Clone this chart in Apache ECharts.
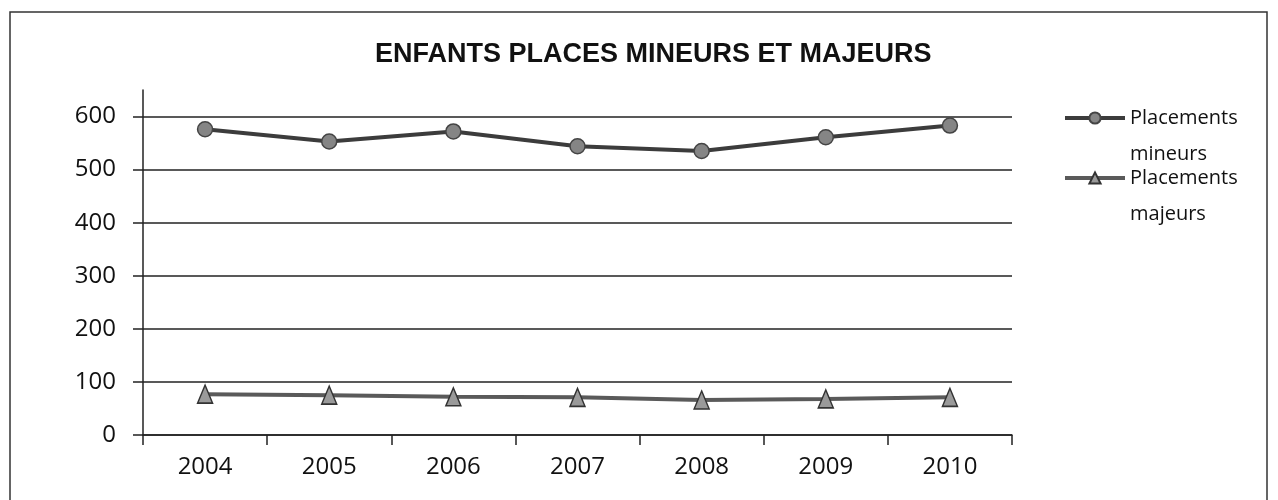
<!DOCTYPE html>
<html lang="fr">
<head>
    <meta charset="UTF-8">
    <title>Enfants placés mineurs et majeurs</title>
    <script src="https://cdn.jsdelivr.net/npm/echarts@6/dist/echarts.min.js"></script>
    <style>
        html, body { margin: 0; padding: 0; background: #fff; }
    </style>
</head>
<body>
<div id="main" style="width: 1278px;height:500px;"></div>
<script>

    var years = ['2004', '2005', '2006', '2007', '2008', '2009', '2010'];
    var mineurs = [576, 553, 572, 544, 535, 561, 583];
    var majeurs = [77, 75, 72, 71, 66, 68, 71];
    var yTicks = [0, 100, 200, 300, 400, 500, 600];

    var myChart = echarts.init(document.getElementById('main'));

    var labelFont = '"Open Sans", sans-serif';

    var legendText = function (name) {
        // ligne vide devant pour que l'icone soit en face de la 1re ligne
        return ' \n' + name.replace(' ', '\n');
    };

    var option = {
        backgroundColor: '#fff',
        animation: false,
        title: {
            text: 'ENFANTS PLACES MINEURS ET MAJEURS',
            left: 370,
            top: 36,
            textStyle: {
                fontFamily: '"Liberation Sans", Arial, sans-serif',
                fontWeight: 'bold',
                fontSize: 27,
                color: '#111'
            }
        },
        legend: [
            {
                data: ['Placements mineurs'],
                left: 1063,
                top: 64,
                padding: 0,
                itemWidth: 60,
                itemHeight: 14,
                lineStyle: {width: 4},
                formatter: legendText,
                textStyle: {fontFamily: labelFont, fontSize: 20, lineHeight: 36, color: '#111'}
            },
            {
                data: ['Placements majeurs'],
                left: 1063,
                top: 124,
                padding: 0,
                itemWidth: 60,
                itemHeight: 14,
                lineStyle: {width: 4},
                formatter: legendText,
                textStyle: {fontFamily: labelFont, fontSize: 20, lineHeight: 36, color: '#111'}
            }
        ],
        grid: {
            left: 143,
            right: 266,
            top: 90,
            bottom: 65
        },
        xAxis: {
            type: 'category',
            data: years,
            boundaryGap: true,
            axisLine: {lineStyle: {color: '#222', width: 1.5}},
            axisTick: {show: true, length: 10, lineStyle: {color: '#222', width: 1.5}},
            axisLabel: {
                margin: 20,
                fontFamily: labelFont,
                fontSize: 24,
                color: '#111'
            },
            splitLine: {show: false}
        },
        yAxis: {
            type: 'value',
            min: 0,
            max: 650,
            interval: 100,
            axisLine: {show: true, lineStyle: {color: '#222', width: 1.5}},
            axisTick: {show: true, length: 10, customValues: yTicks, lineStyle: {color: '#222', width: 1.5}},
            axisLabel: {
                customValues: yTicks,
                margin: 27,
                fontFamily: labelFont,
                fontSize: 24,
                color: '#111'
            },
            splitLine: {
                show: true,
                showMaxLine: true,
                lineStyle: {color: '#222', width: 1.5}
            }
        },
        series: [
            {
                name: 'Placements mineurs',
                type: 'line',
                data: mineurs,
                symbol: 'circle',
                symbolSize: 15,
                lineStyle: {color: '#3c3c3c', width: 4},
                itemStyle: {color: '#858585', borderColor: '#444', borderWidth: 1.5}
            },
            {
                name: 'Placements majeurs',
                type: 'line',
                data: majeurs,
                symbol: 'triangle',
                symbolSize: [15, 18],
                lineStyle: {color: '#5a5a5a', width: 4},
                itemStyle: {color: '#9a9a9a', borderColor: '#333', borderWidth: 1.5}
            }
        ],
        graphic: [
            {
                type: 'rect',
                shape: {x: 10, y: 12, width: 1257, height: 500},
                style: {fill: 'none', stroke: '#333', lineWidth: 1.5},
                silent: true
            }
        ]
    };

    myChart.setOption(option);

</script>
</body>
</html>
